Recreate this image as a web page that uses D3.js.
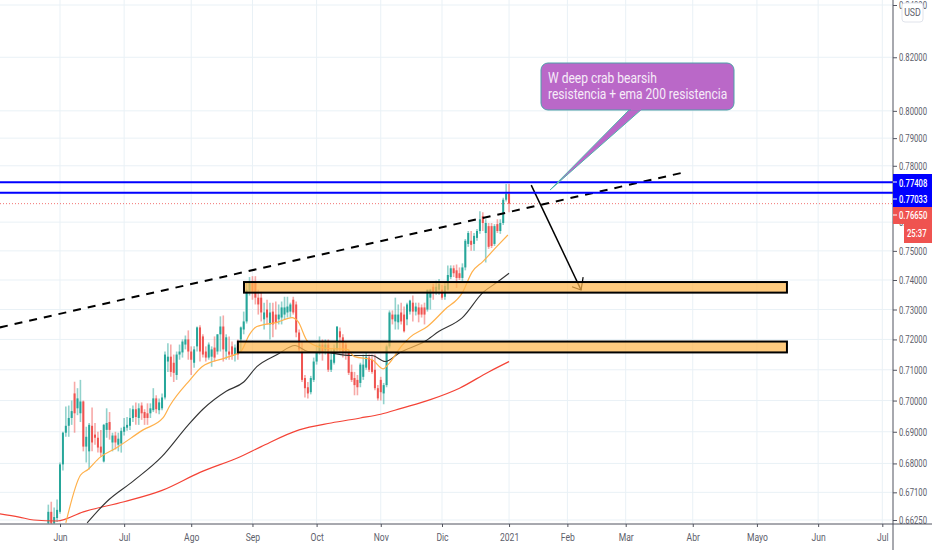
<!DOCTYPE html>
<html>
<head>
<meta charset="utf-8">
<script src="https://cdn.jsdelivr.net/npm/d3@7"></script>
<style>
html, body { margin: 0; padding: 0; background: #fff; }
svg { display: block; }
text { font-family: Roboto, sans-serif; }
</style>
</head>
<body>
<svg id="chart" width="932" height="550"></svg>
<script>
// daily candles, first one is 4 bars before the June tick
const firstBar = -4;
const opens = [
  .6616,.6650,.6616,.6631,.6650,.6797,.6897,.6919,.6944,.7023,.6975,.6959,.6997,.6853,.6838,.6919,.6891,.6881,.6853,.6806,
  .6906,.6931,.6866,.6888,.6859,.6863,.6900,.6913,.6919,.6944,.6972,.6944,.6984,.6963,.6959,.6959,.6969,.7007,.6969,.6975,
  .7010,.7127,.7143,.7123,.7083,.7150,.7157,.7183,.7200,.7160,.7123,.7177,.7240,.7210,.7160,.7140,.7143,.7173,.7160,.7217,
  .7243,.7160,.7160,.7177,.7150,.7177,.7200,.7233,.7260,.7360,.7390,.7390,.7340,.7340,.7267,.7300,.7250,.7293,.7283,.7267,
  .7273,.7283,.7290,.7293,.7333,.7317,.7223,.7157,.7073,.7043,.7027,.7067,.7127,.7157,.7183,.7163,.7183,.7100,.7123,.7167,
  .7227,.7207,.7183,.7157,.7093,.7073,.7067,.7057,.7077,.7107,.7140,.7133,.7100,.7040,.7067,.7023,.7050,.7177,.7283,.7260,
  .7257,.7290,.7283,.7267,.7293,.7323,.7293,.7307,.7307,.7307,.7300,.7340,.7377,.7360,.7367,.7367,.7343,.7367,.7410,.7440,
  .7433,.7423,.7407,.7443,.7524,.7535,.7524,.7545,.7569,.7621,.7562,.7586,.7586,.7524,.7593,.7569,.7597,.7679,.7700
];
const highs = [
  .6672,.6681,.6663,.6688,.6803,.6900,.6981,.6984,.7000,.7061,.7040,.7067,.7000,.6916,.6928,.6978,.6928,.6900,.6906,.6925,
  .6975,.6963,.6897,.6900,.6897,.6913,.6944,.6947,.6975,.6984,.6994,.6991,.6994,.6972,.6991,.6991,.7040,.7017,.7007,.7023,
  .7160,.7187,.7183,.7150,.7160,.7183,.7200,.7213,.7230,.7177,.7177,.7243,.7247,.7217,.7177,.7190,.7177,.7210,.7217,.7277,
  .7280,.7217,.7210,.7193,.7183,.7200,.7243,.7293,.7390,.7410,.7413,.7413,.7367,.7360,.7323,.7333,.7323,.7323,.7327,.7317,
  .7327,.7343,.7343,.7323,.7343,.7327,.7233,.7193,.7083,.7060,.7080,.7140,.7183,.7210,.7200,.7200,.7200,.7167,.7183,.7243,
  .7240,.7217,.7193,.7167,.7117,.7093,.7083,.7123,.7150,.7157,.7150,.7150,.7150,.7050,.7077,.7057,.7183,.7297,.7297,.7340,
  .7317,.7323,.7310,.7323,.7333,.7347,.7323,.7323,.7317,.7323,.7367,.7370,.7387,.7397,.7403,.7383,.7390,.7450,.7450,.7450,
  .7453,.7443,.7457,.7541,.7569,.7569,.7562,.7576,.7638,.7635,.7610,.7597,.7597,.7593,.7610,.7610,.7686,.7735,.7735
];
const lows = [
  .6606,.6606,.6606,.6619,.6644,.6778,.6884,.6884,.6922,.6897,.6953,.6931,.6838,.6803,.6781,.6838,.6859,.6834,.6822,.6803,
  .6881,.6875,.6838,.6844,.6838,.6834,.6888,.6903,.6906,.6931,.6922,.6922,.6938,.6922,.6922,.6944,.6963,.6959,.6956,.6969,
  .7003,.7093,.7077,.7060,.7067,.7133,.7140,.7167,.7133,.7083,.7107,.7160,.7127,.7140,.7127,.7133,.7110,.7127,.7150,.7160,
  .7127,.7133,.7133,.7133,.7127,.7133,.7160,.7217,.7253,.7347,.7333,.7317,.7283,.7260,.7233,.7250,.7200,.7207,.7233,.7250,
  .7250,.7267,.7273,.7273,.7283,.7207,.7160,.7060,.7010,.7007,.7020,.7060,.7117,.7150,.7130,.7150,.7093,.7093,.7117,.7160,
  .7157,.7140,.7133,.7083,.7060,.7017,.7017,.7043,.7067,.7100,.7093,.7087,.7033,.7000,.7000,.6988,.7043,.7170,.7250,.7233,
  .7233,.7250,.7223,.7247,.7283,.7260,.7280,.7257,.7273,.7250,.7293,.7300,.7333,.7350,.7350,.7333,.7333,.7363,.7403,.7410,
  .7373,.7400,.7397,.7433,.7514,.7500,.7500,.7535,.7559,.7569,.7460,.7507,.7510,.7517,.7562,.7559,.7590,.7673,.7635
];
const closes = [
  .6650,.6616,.6634,.6656,.6797,.6897,.6919,.6944,.6966,.6959,.7007,.6997,.6853,.6884,.6922,.6866,.6881,.6850,.6834,.6922,
  .6928,.6906,.6888,.6866,.6878,.6903,.6916,.6922,.6944,.6972,.6947,.6975,.6959,.6944,.6944,.6975,.7007,.6972,.6994,.7010,
  .7150,.7143,.7093,.7090,.7150,.7160,.7193,.7200,.7160,.7133,.7167,.7240,.7160,.7150,.7140,.7183,.7167,.7140,.7217,.7243,
  .7167,.7207,.7150,.7150,.7173,.7150,.7240,.7260,.7367,.7390,.7360,.7340,.7317,.7290,.7290,.7273,.7290,.7250,.7257,.7283,
  .7307,.7307,.7310,.7317,.7290,.7223,.7167,.7067,.7040,.7023,.7073,.7127,.7157,.7183,.7160,.7183,.7100,.7133,.7167,.7243,
  .7207,.7157,.7160,.7090,.7067,.7050,.7043,.7117,.7117,.7143,.7100,.7093,.7040,.7007,.7027,.7050,.7177,.7290,.7267,.7283,
  .7283,.7260,.7227,.7317,.7330,.7293,.7310,.7283,.7283,.7283,.7367,.7367,.7360,.7377,.7387,.7340,.7380,.7417,.7440,.7423,
  .7407,.7407,.7443,.7535,.7562,.7521,.7552,.7569,.7610,.7597,.7597,.7514,.7517,.7586,.7569,.7597,.7679,.7700,.7665
];

// moving averages, as [bar, price] readings
const ema20 = [[2,.6616],[7,.6763],[9.6,.6781],[13.7,.6819],[19,.6847],[28.5,.6906],[35.3,.6944],[37.7,.6984],[44.6,.7067],[48.7,.7110],[57,.7140],[62,.7160],[65,.7217],[67.5,.7243],[74.4,.7257],[79.6,.7273],[81.6,.7260],[85,.7193],[91.6,.7170],[98.4,.7167],[101,.7143],[107,.7133],[110.8,.7103],[112.5,.7117],[117.3,.7180],[120,.7207],[126,.7243],[132,.7300],[138,.7357],[141.3,.7427],[145,.7463],[150,.7517],[153.6,.7555]];
const ema50 = [[9.3,.6616],[16,.6681],[25,.6744],[35,.6822],[44,.6922],[49,.6972],[57,.7030],[63,.7060],[67.5,.7110],[74.5,.7150],[80.6,.7180],[85,.7160],[91.5,.7157],[99.5,.7147],[107,.7147],[111.5,.7127],[116.6,.7157],[125,.7193],[130,.7227],[138,.7273],[145,.7357],[150,.7393],[154,.7423]];
const ema200 = [[-20.6,.6644],[-14,.6634],[-9,.6625],[-1,.6622],[8,.6650],[22,.6681],[35,.6716],[48,.6772],[62,.6822],[69,.6853],[82,.6906],[93,.6928],[103,.6944],[110,.6956],[117,.6975],[127,.7003],[137,.7040],[147,.7093],[154,.7127]];

const trendLine = [[-20.6,.7240],[213,.7774]];
const arrowLine = [[161.6,.7731],[178.7,.7366]];
const arrowHead = [[179.4,.7410],[178.7,.7366],[175.6,.7377]];
const zones = [
  { from: 63.1, to: 249.3, top: .7393, bottom: .7357 },
  { from: 61, to: 249.3, top: .7193, bottom: .7157 }
];
const levels = [.77408, .77033];
const lastPrice = .7665;

const priceTicks = [.84, .82, .80, .79, .78, .77, .76, .75, .74, .73, .72, .71, .70, .69, .68, .671, .6625];
const monthBars = [0, 22, 45, 66, 88, 110, 131, 154, 174, 194, 217, 239, 260, 282];
const monthNames = ["Jun", "Jul", "Ago", "Sep", "Oct", "Nov", "Dic", "2021", "Feb", "Mar", "Abr", "Mayo", "Jun", "Jul"];
const noteLines = ["W deep crab bearsih", "resistencia + ema 200 resistencia"];

const upColor = "#26a69a", downColor = "#ef5350", gridColor = "#e9f1f6", axisColor = "#50535e", labelColor = "#5d606b";
const axisX = 893, axisY = 524;

const svg = d3.select("#chart");

const x = d3.scaleLinear().domain([0, 282]).range([60, 882.3]);
const y = d3.scaleLog().domain([.6625, .84]).range([520, 5]);

// the reference has its text squeezed horizontally
function squeeze(sel, k = 0.7) {
  sel.attr("transform", function () {
    const ax = +this.getAttribute("x") || 0;
    return `translate(${ax},0) scale(${k},1) translate(${-ax},0)`;
  });
}

svg.append("clipPath").attr("id", "plot").append("rect").attr("width", axisX).attr("height", axisY);

// grid
svg.append("g").selectAll("line").data(priceTicks).join("line")
  .attr("x1", 0).attr("x2", axisX).attr("y1", d => y(d)).attr("y2", d => y(d))
  .attr("stroke", gridColor);
svg.append("g").selectAll("line").data(monthBars).join("line")
  .attr("x1", d => x(d)).attr("x2", d => x(d)).attr("y1", 0).attr("y2", axisY)
  .attr("stroke", gridColor);

const plot = svg.append("g").attr("clip-path", "url(#plot)");

// candles
const bars = opens.map((o, i) => ({ i: i + firstBar, o, h: highs[i], l: lows[i], c: closes[i] }));
const colorOf = d => d.c >= d.o ? upColor : downColor;

plot.append("g").selectAll("line").data(bars).join("line")
  .attr("x1", d => x(d.i)).attr("x2", d => x(d.i))
  .attr("y1", d => y(d.h)).attr("y2", d => y(d.l))
  .attr("stroke", colorOf).attr("stroke-width", 1.6).attr("stroke-opacity", 0.5);
plot.append("g").selectAll("rect").data(bars).join("rect")
  .attr("x", d => x(d.i) - 1).attr("width", 2)
  .attr("y", d => y(Math.max(d.o, d.c)))
  .attr("height", d => Math.max(1, y(Math.min(d.o, d.c)) - y(Math.max(d.o, d.c))))
  .attr("fill", colorOf);

// moving averages
const smooth = d3.line().x(d => x(d[0])).y(d => y(d[1])).curve(d3.curveMonotoneX);
const straight = d3.line().x(d => x(d[0])).y(d => y(d[1]));
[[ema200, "#f44336", 1.2], [ema50, "#333", 1.1], [ema20, "#ffb04a", 1.2]].forEach(([pts, color, w]) => {
  plot.append("path").attr("d", smooth(pts)).attr("fill", "none").attr("stroke", color).attr("stroke-width", w);
});

// last price
plot.append("line").attr("x1", 0).attr("x2", axisX).attr("y1", y(lastPrice)).attr("y2", y(lastPrice))
  .attr("stroke", downColor).attr("stroke-dasharray", "1 2").attr("stroke-opacity", 0.8);

// trend line and down arrow
plot.append("path").attr("d", straight(trendLine)).attr("fill", "none")
  .attr("stroke", "#000").attr("stroke-width", 2).attr("stroke-dasharray", "8 7");
plot.append("path").attr("d", straight(arrowLine)).attr("fill", "none").attr("stroke", "#000").attr("stroke-width", 1.5);
plot.append("path").attr("d", straight(arrowHead)).attr("fill", "none").attr("stroke", "#000").attr("stroke-width", 1.2);

// support zones
plot.append("g").selectAll("rect").data(zones).join("rect")
  .attr("x", d => x(d.from)).attr("width", d => x(d.to) - x(d.from))
  .attr("y", d => y(d.top)).attr("height", d => y(d.bottom) - y(d.top))
  .attr("fill", "#ffb74d").attr("fill-opacity", 0.72)
  .attr("stroke", "#000").attr("stroke-width", 2);

// resistance levels
plot.append("g").selectAll("line").data(levels).join("line")
  .attr("x1", 0).attr("x2", axisX).attr("y1", d => y(d)).attr("y2", d => y(d))
  .attr("stroke", "#0000ff").attr("stroke-width", 2);

// callout
const note = svg.append("g");
note.append("path")
  .attr("d", "M630 109 L550 190 L642 109 Z")
  .attr("fill", "#ba68c8").attr("stroke", "#4db6ac").attr("stroke-width", 1);
note.append("rect").attr("x", 541).attr("y", 63).attr("width", 193).attr("height", 47).attr("rx", 7)
  .attr("fill", "#ba68c8").attr("stroke", "#4d9fa8").attr("stroke-width", 1);
note.append("path").attr("d", "M631 109.5 L641 109.5").attr("stroke", "#ba68c8").attr("stroke-width", 2);
note.selectAll("text").data(noteLines).join("text")
  .attr("x", 548).attr("y", (d, i) => 83 + i * 16)
  .attr("font-size", 14.5).attr("fill", "#f6ecf8")
  .text(d => d)
  .call(squeeze, 0.83);

// right axis, 0.77 sits behind the blue badge so it has no label
const yAxis = svg.append("g").attr("transform", `translate(${axisX},0)`)
  .call(d3.axisRight(y).tickValues(priceTicks).tickFormat(d => d === .77 ? "" : d3.format(".5f")(d)).tickSize(4).tickPadding(2));
yAxis.select(".domain").remove();
yAxis.selectAll("line").attr("stroke", axisColor);
yAxis.selectAll("text").attr("font-size", 11).attr("font-family", "Roboto, sans-serif").attr("fill", labelColor).call(squeeze);
svg.append("line").attr("x1", axisX).attr("x2", axisX).attr("y1", 0).attr("y2", 550).attr("stroke", axisColor);

// bottom axis
const xAxis = svg.append("g").attr("transform", `translate(0,${axisY})`)
  .call(d3.axisBottom(x).tickValues(monthBars).tickFormat((d, i) => monthNames[i]).tickSize(3).tickPadding(6));
xAxis.select(".domain").remove();
xAxis.selectAll("line").attr("stroke", axisColor);
xAxis.selectAll("text").attr("font-size", 11).attr("font-family", "Roboto, sans-serif").attr("fill", labelColor).call(squeeze, 0.78);
svg.append("line").attr("x1", 0).attr("x2", 932).attr("y1", axisY).attr("y2", axisY).attr("stroke", axisColor);

// currency box
svg.append("rect").attr("x", 902).attr("y", 3).attr("width", 21).attr("height", 19).attr("rx", 3)
  .attr("fill", "#fff").attr("stroke", "#e0e3eb");
svg.append("text").attr("x", 912.5).attr("y", 16).attr("text-anchor", "middle")
  .attr("font-size", 11).attr("fill", labelColor).text("USD").call(squeeze, 0.8);

// price badges
svg.append("rect").attr("x", 893).attr("y", 174).attr("width", 39).attr("height", 33).attr("fill", "#0000ff");
svg.append("rect").attr("x", 893).attr("y", 207).attr("width", 39).attr("height", 17).attr("fill", downColor);
svg.append("rect").attr("x", 904).attr("y", 224).attr("width", 28).attr("height", 19).attr("fill", downColor);
const badgeLabels = [
  { text: d3.format(".5f")(levels[0]), x: 899, y: 187 },
  { text: d3.format(".5f")(levels[1]), x: 899, y: 203 },
  { text: d3.format(".5f")(lastPrice), x: 899, y: 219 },
  { text: "25:37", x: 907, y: 237 }
];
svg.selectAll("text.badge").data(badgeLabels).join("text").attr("class", "badge")
  .attr("x", d => d.x).attr("y", d => d.y)
  .attr("font-size", 11).attr("font-weight", 500).attr("fill", "#fff").text(d => d.text).call(squeeze);
svg.append("g").selectAll("line").data([182, 199, 215]).join("line")
  .attr("x1", axisX).attr("x2", axisX + 4).attr("y1", d => d).attr("y2", d => d).attr("stroke", "#fff");
</script>
</body>
</html>
